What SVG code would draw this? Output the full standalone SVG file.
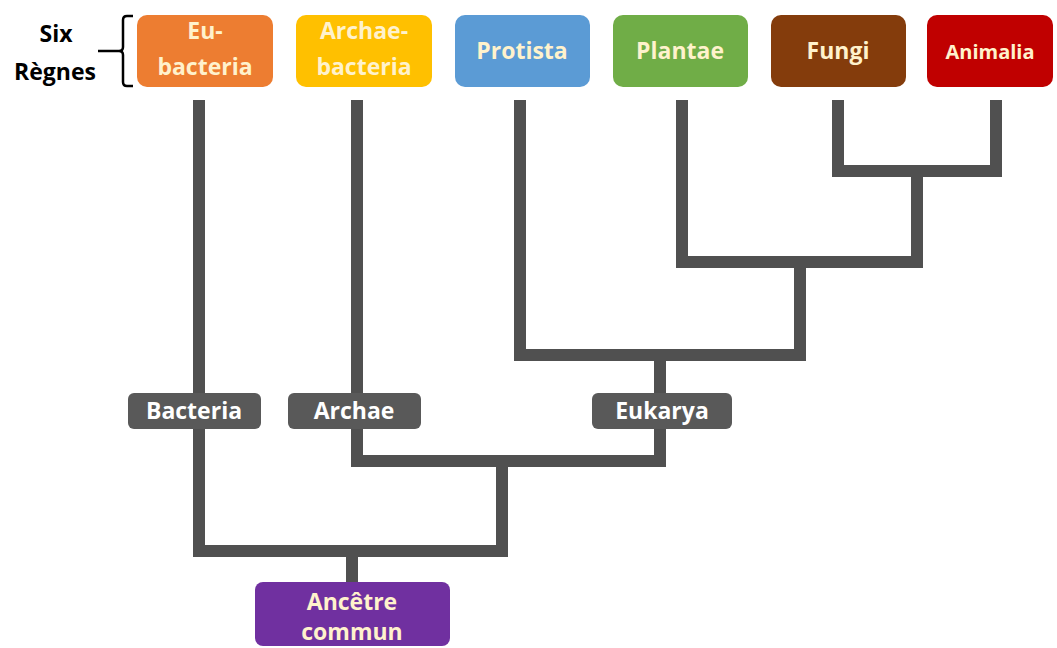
<svg xmlns="http://www.w3.org/2000/svg" width="1057" height="648" viewBox="0 0 1057 648">
<style>
.box{stroke:none}
.t{font-family:"Open Sans","Liberation Sans",sans-serif;font-weight:bold;font-size:23px;fill:#FFF2CC;text-anchor:middle}
.lt{font-family:"Open Sans","Liberation Sans",sans-serif;font-weight:bold;font-size:23px;fill:#FFFFFF;text-anchor:middle}
.k{font-family:"Open Sans","Liberation Sans",sans-serif;font-weight:bold;font-size:23px;fill:#000;text-anchor:middle}
.c{fill:none;stroke:#505050;stroke-width:12;stroke-linejoin:miter;stroke-linecap:square}
</style>
<rect width="1057" height="648" fill="#FFFFFF"/>
<g id="connectors">
<path class="c" d="M838,106 V171 H996 V106"/>
<path class="c" d="M917,171 V262"/>
<path class="c" d="M682,106 V262 H917"/>
<path class="c" d="M800,262 V355"/>
<path class="c" d="M520,106 V355 H800"/>
<path class="c" d="M660,355 V461"/>
<path class="c" d="M357,106 V461 H660"/>
<path class="c" d="M502,461 V551"/>
<path class="c" d="M199,106 V551 H502"/>
<path class="c" d="M352,551 V584"/>
</g>
<g id="label">
<text class="k" x="56" y="42">Six</text>
<text class="k" x="55" y="80">Règnes</text>
<path d="M133,16 H127 Q123,16 123,20 V47 Q123,51 119,51 H98 M119,51 Q123,51 123,55 V82 Q123,86 127,86 H133" fill="none" stroke="#000" stroke-width="2.5"/>
</g>
<g id="eubacteria">
<rect class="box" x="137" y="15" width="136" height="72" rx="10" fill="#ED7D31"/>
<text class="t" x="205" y="39">Eu-</text>
<text class="t" x="205" y="75">bacteria</text>
</g>
<g id="archaebacteria">
<rect class="box" x="296" y="15" width="136" height="72" rx="10" fill="#FFC000"/>
<text class="t" x="364" y="39">Archae-</text>
<text class="t" x="364" y="75">bacteria</text>
</g>
<g id="protista">
<rect class="box" x="455" y="15" width="135" height="72" rx="10" fill="#5B9BD5"/>
<text class="t" x="522" y="59">Protista</text>
</g>
<g id="plantae">
<rect class="box" x="613" y="15" width="135" height="72" rx="10" fill="#70AD47"/>
<text class="t" x="680" y="59">Plantae</text>
</g>
<g id="fungi">
<rect class="box" x="771" y="15" width="135" height="72" rx="10" fill="#843C0C"/>
<text class="t" x="838" y="59">Fungi</text>
</g>
<g id="animalia">
<rect class="box" x="927" y="15" width="126" height="72" rx="10" fill="#C00000"/>
<text class="t" x="990" y="59" style="font-size:20px">Animalia</text>
</g>
<g id="bacteria">
<rect class="box" x="128" y="393" width="133" height="36" rx="6" fill="#595959"/>
<text class="lt" x="194" y="419">Bacteria</text>
</g>
<g id="archae">
<rect class="box" x="288" y="393" width="133" height="36" rx="6" fill="#595959"/>
<text class="lt" x="354" y="419">Archae</text>
</g>
<g id="eukarya">
<rect class="box" x="592" y="393" width="140" height="36" rx="6" fill="#595959"/>
<text class="lt" x="662" y="419">Eukarya</text>
</g>
<g id="ancetre">
<rect class="box" x="255" y="582" width="195" height="64" rx="8" fill="#7030A0"/>
<text class="t" x="352" y="610">Ancêtre</text>
<text class="t" x="352" y="640">commun</text>
</g>
</svg>
